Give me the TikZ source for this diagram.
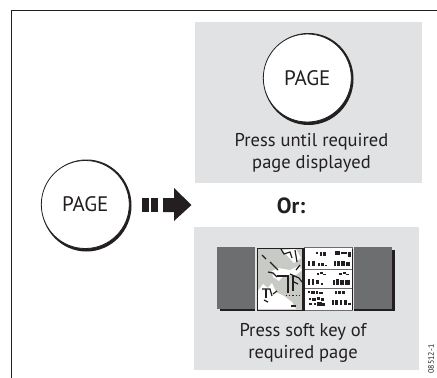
\documentclass[tikz,border=0pt]{standalone}
\usepackage{fontspec}
\setmainfont{PT Sans}
\definecolor{panel}{HTML}{E1E2E4}
\definecolor{strip}{HTML}{6D6E70}
\definecolor{ink}{HTML}{231F20}
\definecolor{mapbg}{HTML}{C8CAC6}
\tikzset{
  panelbox/.style={fill=panel,draw=none},
  keycap/.style={circle,draw=ink,line width=0.8pt,fill=white,minimum size=#1,inner sep=0pt,font=\fontsize{21}{21}\selectfont,text=ink},
  caption/.style={align=center,text=ink,font=\fontsize{18.5}{22.5}\selectfont},
  ink fill/.style={fill=ink,draw=none}
}
\begin{document}
\begin{tikzpicture}[x=1pt,y=-1pt]
\useasboundingbox (0,0) rectangle (437,378);
\fill[white] (0,0) rectangle (437,378);
\coordinate (frameTL) at (11,10);
\coordinate (frameBL) at (11,378);
\coordinate (frameTR) at (437,10);
\draw[ink,line width=1pt] (frameBL) -- (frameTL) -- (frameTR);
% panels
\fill[panelbox] (195,22) rectangle (422,183);
\fill[panelbox] (194,227) rectangle (419,369.5);
% top key
\fill[ink] (308.5,79) ellipse[x radius=45,y radius=46];
\node[keycap=88pt] (keyTop) at (307.3,78) {PAGE};
% left key
\fill[ink] (86.5,205.5) ellipse[x radius=45,y radius=46];
\node[keycap=88pt] (keyLeft) at (85.3,204.5) {PAGE};
% arrow
\fill[ink fill] (142,198) rectangle (148.5,212);
\fill[ink fill] (151,198) rectangle (158,212);
\fill[ink fill] (163,198) -- (174,198) -- (174,188) -- (191.5,205) -- (174,221) -- (174,212) -- (163,212) -- cycle;
\node[font=\bfseries\fontsize{22}{22}\selectfont,text=ink] (orLabel) at (291,206) {Or:};
% soft keys strip
\fill[ink] (220,250) rectangle (395,311);
\fill[strip] (217,247) rectangle (392,309);
% screen
\fill[panel] (255,246) rectangle (354,312);
\fill[white] (304,247) rectangle (352,311);
\fill[mapbg] (257,248) rectangle (303,310);
\draw[ink,line width=1pt] (257,248.5) rectangle (302.5,310);
\draw[strip,line width=1pt] (304.5,247.5) rectangle (352.5,310.5);
\fill[ink] (302.5,248) rectangle (305,311);
\fill[ink] (351.5,249) rectangle (353,310);
\draw[strip,line width=1pt] (305,269.5) -- (352,269.5);
\draw[strip,line width=1pt] (305,288.5) -- (352,288.5);
% map blobs
\fill[white] (258,291) -- (263,284) -- (268,288) -- (272,283) -- (276,292) -- (284,296) -- (292,302) -- (296,309) -- (258,309) -- cycle;
\fill[white] (272,271) -- (278,268) -- (290,270) -- (299,266) -- (302,270) -- (296,275) -- (284,275) -- (279,281) -- (273,277) -- cycle;
\fill[white] (282,250) -- (296,249) -- (301,258) -- (294,263) -- cycle;
\begin{scope}[ink,line width=1.2pt]
\draw (281,249) -- (284,254) -- (290,252) -- (292,258);
\draw (262,255) -- (266,259);
\draw (270,262) -- (278,270);
\draw (268,272) -- (273,273) -- (277,277);
\draw (277,276) -- (288,276) -- (288,293);
\draw (293,276) -- (293,291);
\draw (290,274) -- (299,278) -- (302,282);
\draw (296,270) -- (300,265);
\draw (262,289) -- (270,289) -- (272,296);
\draw (266,289) -- (266,298);
\draw (273,294) -- (277,291);
\draw (264,300) -- (268,302);
\draw[dotted] (286,295.5) -- (300,295.5);
\draw (291,306) -- (296,306);
\draw (294,282) -- (298,284);
\draw (295,250) -- (297,262);
\end{scope}
% data pane: blurred figures
\begin{scope}[ink]
\foreach \x/\y/\w/\h in {
 316/252/2/2, 320/252/2/4, 323/252/3/4, 335/251/5/4, 341/252/6/2, 348/252/3/5,
 308/261/2/5, 312/261/3/5, 318/263/2/3, 321/263/3/3, 325/265/2/1, 334/261/2/5, 337/261/3/5, 341/261/4/5, 346/262/4/4,
 317/273/2/2, 320/272/3/2, 323/274/3/1, 339/273/3/2, 343/272/3/2, 346/274/3/1,
 308/279/2/6, 312/279/2/6, 316/280/3/4, 321/283/2/2, 333/280/2/5, 336/279/3/6, 340/280/4/5, 345/280/5/5,
 308/291/2/2, 311/291/4/3, 316/291/2/3, 319/292/4/2, 335/291/2/3, 338/291/3/3, 342/291/3/3,
 309/298/2/2, 312/298/4/3, 317/297/3/3, 321/298/3/3,
 309/303/3/2, 314/303/2/2, 317/302/5/4, 322/303/3/3, 332/300/2/5, 335/300/3/5, 340/300/2/5, 344/300/3/5, 348/303/3/2
} {\fill (\x,\y) rectangle ++(\w,\h);}
\end{scope}
% captions
\node[caption] (capTop) at (311.5,153) {Press until required\\page displayed};
\node[caption] (capBottom) at (303,343) {Press soft key of\\required page};
\node[rotate=90,font=\fontsize{8}{8}\selectfont,text=ink] (figId) at (431,359) {08512-1};
\end{tikzpicture}
\end{document}
